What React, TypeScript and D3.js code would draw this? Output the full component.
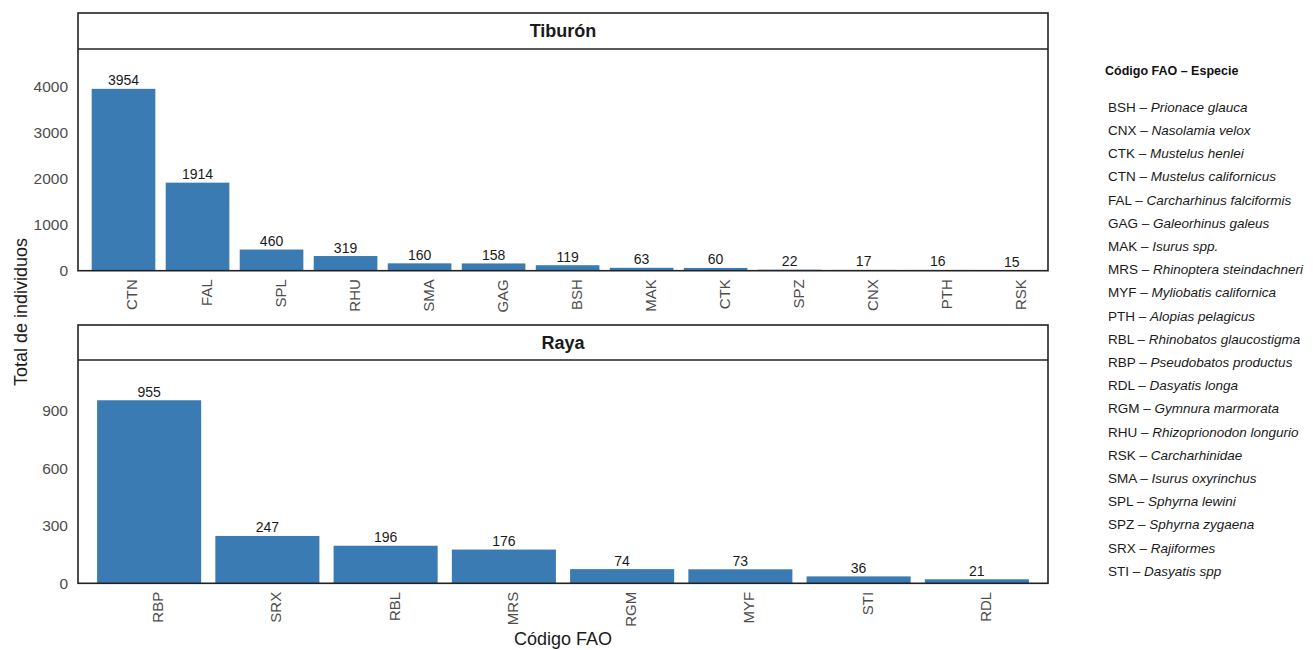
import React from "react";
import * as d3 from "d3";

const tiburonCodes = ["CTN", "FAL", "SPL", "RHU", "SMA", "GAG", "BSH", "MAK", "CTK", "SPZ", "CNX", "PTH", "RSK"];
const tiburonValues = [3954, 1914, 460, 319, 160, 158, 119, 63, 60, 22, 17, 16, 15];
const tiburonTicks = [0, 1000, 2000, 3000, 4000];

const rayaCodes = ["RBP", "SRX", "RBL", "MRS", "RGM", "MYF", "STI", "RDL"];
const rayaValues = [955, 247, 196, 176, 74, 73, 36, 21];
const rayaTicks = [0, 300, 600, 900];

const legendCodes = ["BSH", "CNX", "CTK", "CTN", "FAL", "GAG", "MAK", "MRS", "MYF", "PTH", "RBL", "RBP", "RDL", "RGM", "RHU", "RSK", "SMA", "SPL", "SPZ", "SRX", "STI"];
const legendSpecies = [
  "Prionace glauca", "Nasolamia velox", "Mustelus henlei", "Mustelus californicus",
  "Carcharhinus falciformis", "Galeorhinus galeus", "Isurus spp.", "Rhinoptera steindachneri",
  "Myliobatis californica", "Alopias pelagicus", "Rhinobatos glaucostigma", "Pseudobatos productus",
  "Dasyatis longa", "Gymnura marmorata", "Rhizoprionodon longurio", "Carcharhinidae",
  "Isurus oxyrinchus", "Sphyrna lewini", "Sphyrna zygaena", "Rajiformes", "Dasyatis spp",
];

const FONT = "'Liberation Sans', Arial, sans-serif";
const BAR = "#3b7bb4";

type PanelProps = {
  title: string;
  codes: string[];
  values: number[];
  ticks: number[];
  yMax: number;
  boxTop: number;
  stripBottom: number;
  axisY: number;
  left: number;
  right: number;
  bandStart: number;
  bandEnd: number;
  inner: number;
};

function Panel(p: PanelProps) {
  const x = d3
    .scaleBand<string>()
    .domain(p.codes)
    .range([p.bandStart, p.bandEnd])
    .paddingInner(p.inner)
    .paddingOuter(p.inner / 2);
  const y = d3.scaleLinear().domain([0, p.yMax]).range([p.axisY, p.stripBottom]);
  const cx = (p.left + p.right) / 2;
  return (
    <g>
      {p.codes.map((c, i) => (
        <rect
          key={c}
          x={x(c)}
          y={y(p.values[i])}
          width={x.bandwidth()}
          height={p.axisY - y(p.values[i])}
          fill={BAR}
        />
      ))}
      {p.codes.map((c, i) => (
        <text
          key={"v" + c}
          x={(x(c) as number) + x.bandwidth() / 2}
          y={y(p.values[i]) - 3.5}
          textAnchor="middle"
          fontSize={14}
          fill="#1a1a1a"
          fontFamily={FONT}
        >
          {p.values[i]}
        </text>
      ))}
      {p.codes.map((c) => {
        const xc = (x(c) as number) + x.bandwidth() / 2 + 14;
        const yy = p.axisY + 8.5;
        return (
          <text
            key={"l" + c}
            x={xc}
            y={yy}
            transform={`rotate(-90 ${xc} ${yy})`}
            textAnchor="end"
            fontSize={15}
            fill="#4d4d4d"
            fontFamily={FONT}
          >
            {c}
          </text>
        );
      })}
      {p.ticks.map((t) => (
        <text
          key={"t" + t}
          x={p.left - 10}
          y={y(t)}
          dy="0.36em"
          textAnchor="end"
          fontSize={15.5}
          fill="#4d4d4d"
          fontFamily={FONT}
        >
          {t}
        </text>
      ))}
      <rect
        x={p.left}
        y={p.boxTop}
        width={p.right - p.left}
        height={p.axisY - p.boxTop}
        fill="none"
        stroke="#222"
        strokeWidth={1.6}
      />
      <line x1={p.left} x2={p.right} y1={p.stripBottom} y2={p.stripBottom} stroke="#222" strokeWidth={1.6} />
      <text
        x={cx}
        y={(p.boxTop + p.stripBottom) / 2}
        dy="0.36em"
        textAnchor="middle"
        fontSize={18}
        fontWeight="bold"
        fill="#1a1a1a"
        fontFamily={FONT}
      >
        {p.title}
      </text>
    </g>
  );
}

export default function App() {
  const legendY = d3.scaleLinear().domain([0, legendCodes.length - 1]).range([107, 571]);
  return (
    <svg width={1313} height={650} style={{ position: "absolute", left: 0, top: 0, background: "#fff" }}>
      <rect x={0} y={0} width={1313} height={650} fill="#fff" />
      <Panel
        title="Tiburón"
        codes={tiburonCodes}
        values={tiburonValues}
        ticks={tiburonTicks}
        yMax={4820}
        boxTop={13}
        stripBottom={49}
        axisY={270.7}
        left={78}
        right={1048}
        bandStart={86.5}
        bandEnd={1048.7}
        inner={0.14}
      />
      <Panel
        title="Raya"
        codes={rayaCodes}
        values={rayaValues}
        ticks={rayaTicks}
        yMax={1165}
        boxTop={325}
        stripBottom={360}
        axisY={583.3}
        left={78}
        right={1048}
        bandStart={90}
        bandEnd={1036}
        inner={0.12}
      />
      <text
        x={27}
        y={312}
        transform="rotate(-90 27 312)"
        textAnchor="middle"
        fontSize={18}
        fill="#1a1a1a"
        fontFamily={FONT}
      >
        Total de individuos
      </text>
      <text x={563} y={645} textAnchor="middle" fontSize={18} fill="#1a1a1a" fontFamily={FONT}>
        Código FAO
      </text>
      <text x={1105} y={70} dy="0.36em" fontSize={12.5} fontWeight="bold" fill="#111" fontFamily={FONT}>
        Código FAO – Especie
      </text>
      {legendCodes.map((c, i) => (
        <text key={c} x={1108} y={legendY(i)} dy="0.36em" fontSize={13.5} fill="#1a1a1a" fontFamily={FONT}>
          {c} – <tspan fontStyle="italic">{legendSpecies[i]}</tspan>
        </text>
      ))}
    </svg>
  );
}
